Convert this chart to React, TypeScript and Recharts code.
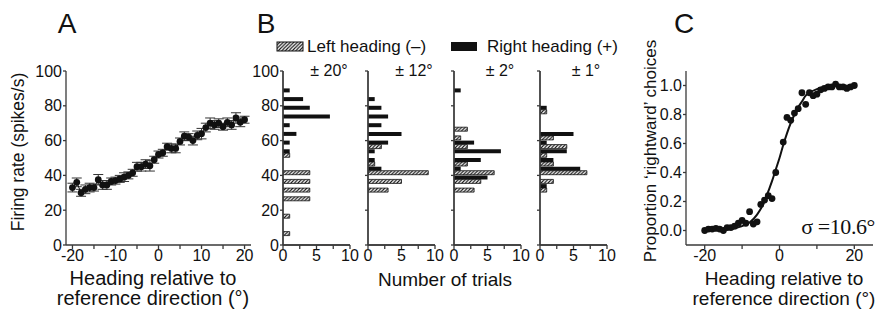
import React from 'react';
import { ComposedChart, Bar, Line, Scatter, XAxis, YAxis, ErrorBar, ReferenceLine } from 'recharts';

const FONT = '"Liberation Sans", Arial, Helvetica, sans-serif';
const SERIF = '"Liberation Serif", "Times New Roman", serif';
const AXIS = '#3a3a3a';
const INK = '#111';
const W = 878;
const H = 310;
const PLOT_TOP = 71;
const PLOT_BOTTOM = 245;

// ---------- Panel A: firing rate vs heading ----------
const headingsA = [-20, -19, -18, -17, -16, -15, -14, -13, -12, -11, -10, -9, -8, -7, -6, -5, -4, -3, -2, -1, 0,
  1, 2, 3, 4, 5, 6, 7, 8, 9, 10, 11, 12, 13, 14, 15, 16, 17, 18, 19, 20];
const firingRate = [33, 36, 30, 32, 33, 33, 37.5, 34.5, 34.5, 36.5, 37, 38, 39, 40, 41.5, 45, 45, 46.5, 45.5, 49, 52,
  53, 56.5, 55.5, 55.5, 59.5, 62.5, 62, 60, 63, 64, 67.5, 70, 69, 70, 68, 70.5, 69, 73, 70.5, 72];
const firingSem = [2.5, 2.5, 2, 2.5, 2.5, 2, 3, 2.5, 2.5, 2, 2, 2, 2.5, 2, 2, 2.5, 2.5, 2.5, 3, 2, 2,
  2, 2, 2.5, 2.5, 2, 2.5, 2, 2.5, 2.5, 3, 2.5, 3, 2.5, 2.5, 2, 2.5, 2.5, 3, 2.5, 2];
const ticksA = [-20, -15, -10, -5, 0, 5, 10, 15, 20];
const rateTicks = [0, 20, 40, 60, 80, 100];

// ---------- Panel B: histograms (firing-rate bins of 5 spikes/s, bin centres) ----------
const binCenters = [2.5, 7.5, 12.5, 17.5, 22.5, 27.5, 32.5, 37.5, 42.5, 47.5,
  52.5, 57.5, 62.5, 67.5, 72.5, 77.5, 82.5, 87.5, 92.5, 97.5];
const histTitles = ['± 20°', '± 12°', '± 2°', '± 1°'];
const right20 = [0, 0, 0, 0, 0, 0, 0, 0, 0, 0, 1, 1, 2, 1, 7, 4, 3, 1, 0, 0];
const left20 = [0, 1, 0, 1, 0, 4, 4, 4, 4, 0, 1, 0, 0, 0, 0, 0, 0, 0, 0, 0];
const right12 = [0, 0, 0, 0, 0, 0, 0, 0, 2, 1, 1, 3, 5, 2, 3, 2, 1, 0, 0, 0];
const left12 = [0, 0, 0, 0, 0, 0, 3, 5, 9, 1, 0, 2, 0, 0, 0, 0, 0, 0, 0, 0];
const right2 = [0, 0, 0, 0, 0, 0, 0, 5, 1, 4, 7, 3, 0, 0, 0, 0, 0, 1, 0, 0];
const left2 = [0, 0, 0, 0, 0, 0, 3, 4, 6, 2, 0, 2, 1, 2, 0, 0, 0, 0, 0, 0];
const right1 = [0, 0, 0, 0, 0, 0, 1, 0, 6, 2, 4, 1, 5, 0, 0, 1, 0, 0, 0, 0];
const left1 = [0, 0, 0, 0, 0, 0, 1, 2, 7, 2, 1, 4, 2, 0, 0, 1, 0, 0, 0, 0];
const trialTicks = [0, 2.5, 5, 7.5, 10];
const legendLabels = ['Left heading (–)', 'Right heading (+)'];

// ---------- Panel C: psychometric ----------
const psychHeading = [-20, -19, -18, -17, -16, -15, -14, -13, -12, -11, -10, -9, -8, -7, -6, -5, -4, -3, -2, -1,
  1, 2, 3, 4, 5, 6, 7, 8, 9, 10, 11, 12, 13, 14, 15, 16, 17, 18, 19, 20];
const psychProp = [0.0, 0.01, 0.01, 0.015, 0.01, 0.0, 0.02, 0.02, 0.03, 0.05, 0.07, 0.05, 0.13, 0.045, 0.06, 0.18, 0.21, 0.24, 0.22, 0.40,
  0.61, 0.78, 0.76, 0.81, 0.84, 0.95, 0.87, 0.95, 0.93, 0.94, 0.97, 0.98, 0.99, 0.99, 1.01, 0.99, 0.99, 0.98, 0.99, 1.0];
const fitHeading = [-20, -16, -12, -10, -8, -6, -5, -4, -3, -2, -1, 0, 1, 2, 3, 4, 5, 6, 7, 8, 10, 12, 16, 20];
const fitProp = [0.0, 0.003, 0.015, 0.03, 0.055, 0.11, 0.15, 0.2, 0.27, 0.34, 0.42, 0.5, 0.59, 0.67, 0.74, 0.8, 0.85, 0.89, 0.93, 0.95, 0.975, 0.99, 0.998, 1.0];
const propTicks = [0, 0.2, 0.4, 0.6, 0.8, 1.0];
const headingTicksC = [-20, -10, 0, 10, 20];

const tickStyle = { fontSize: 16, fill: INK, fontFamily: FONT };
const lineStyle = { stroke: AXIS, strokeWidth: 1.3 };
const abs: React.CSSProperties = { position: 'absolute', left: 0, top: 0 };

const HatchDef = ({ id }: { id: string }) => (
  <defs>
    <pattern id={id} patternUnits="userSpaceOnUse" width="3.5" height="3.5">
      <rect width="3.5" height="3.5" fill="#fff" />
      <path d="M-1,1 L1,-1 M0,3.5 L3.5,0 M2.5,4.5 L4.5,2.5" stroke={INK} strokeWidth="1.1" />
    </pattern>
  </defs>
);

const Dot = (props: any) => {
  const { cx, cy } = props;
  if (cx == null || cy == null) return null;
  return <circle cx={cx} cy={cy} r={3.4} fill={INK} />;
};

function PanelA() {
  const data = headingsA.map((h, i) => ({ h, rate: firingRate[i], err: firingSem[i] }));
  const yw = 40;
  const left = 66;
  const right = 251;
  return (
    <div style={abs}>
      <ComposedChart width={W} height={H} data={data}
        margin={{ top: PLOT_TOP, left: left - yw, right: W - right, bottom: H - PLOT_BOTTOM - 30 }}>
        <XAxis dataKey="h" type="number" domain={[-21.5, 21.5]} ticks={ticksA}
          tickFormatter={(v: number) => (v % 10 === 0 ? String(v) : '')}
          height={30} axisLine={lineStyle} tickLine={lineStyle} tick={tickStyle} tickSize={4} tickMargin={1} />
        <YAxis type="number" domain={[0, 100]} ticks={rateTicks} width={yw} axisLine={lineStyle} tickLine={lineStyle}
          tick={tickStyle} tickSize={3} tickMargin={1} />
        <Line dataKey="rate" stroke={INK} strokeWidth={1} dot={<Dot />} isAnimationActive={false}>
          <ErrorBar dataKey="err" direction="y" width={5} stroke="#333" strokeWidth={1} />
        </Line>
      </ComposedChart>
    </div>
  );
}

function Hist({ axisX, right, left, showY, id, title }: any) {
  const data = binCenters.map((m, i) => ({ mid: m, right: right[i], left: left[i] }));
  const yw = 40;
  const pw = 67;
  const cw = yw + pw + 12;
  return (
    <div style={{ position: 'absolute', left: axisX - yw, top: 0 }}>
      <ComposedChart width={cw} height={H} data={data} layout="vertical" barCategoryGap={0} barGap={0}
        margin={{ top: PLOT_TOP, left: 0, right: cw - yw - pw, bottom: H - PLOT_BOTTOM - 30 }}>
        <XAxis type="number" domain={[0, 10]} ticks={trialTicks} allowDataOverflow
          tickFormatter={(v: number) => (v % 5 === 0 ? String(v) : '')}
          height={30} axisLine={lineStyle} tickLine={lineStyle} tick={tickStyle} tickSize={4} tickMargin={1} />
        <YAxis type="number" dataKey="mid" domain={[0, 100]} ticks={rateTicks} allowDataOverflow reversed width={yw}
          axisLine={lineStyle} tickLine={lineStyle} tick={tickStyle} tickSize={3} tickMargin={1}
          tickFormatter={(v: number) => (showY ? String(v) : '')} />
        <ReferenceLine x={0} stroke={AXIS} strokeWidth={1.3} ifOverflow="visible" />
        <ReferenceLine y={0} stroke={AXIS} strokeWidth={1.3} ifOverflow="visible" />
        <Bar dataKey="right" fill={INK} isAnimationActive={false} />
        <Bar dataKey="left" fill={`url(#${id})`} stroke={INK} strokeWidth={0.8} isAnimationActive={false} />
      </ComposedChart>
      <svg width={cw} height={H} style={abs}>
        <text x={yw + 46} y={76} textAnchor="middle" fontFamily={FONT} fontSize={16} fill={INK}>{title}</text>
      </svg>
    </div>
  );
}

function PanelC() {
  const pts = psychHeading.map((h, i) => ({ h, p: psychProp[i] }));
  const fit = fitHeading.map((h, i) => ({ h, p: fitProp[i] }));
  const yw = 40;
  const left = 686;
  const right = 873;
  const x0 = 600;
  return (
    <div style={{ position: 'absolute', left: x0, top: 0 }}>
      <ComposedChart width={W - x0} height={H}
        margin={{ top: PLOT_TOP, left: left - yw - x0, right: W - right, bottom: H - PLOT_BOTTOM - 30 }}>
        <XAxis dataKey="h" type="number" domain={[-25, 25]} ticks={headingTicksC} allowDataOverflow
          tickFormatter={(v: number) => (v % 20 === 0 ? String(v) : '')}
          height={30} axisLine={lineStyle} tickLine={lineStyle} tick={tickStyle} tickSize={4} tickMargin={1} />
        <YAxis dataKey="p" type="number" domain={[-0.1, 1.1]} ticks={propTicks} allowDataOverflow width={yw}
          axisLine={lineStyle} tickLine={lineStyle} tick={tickStyle} tickSize={3} tickMargin={1}
          tickFormatter={(v: number) => v.toFixed(1)} />
        <Line data={fit} dataKey="p" type="monotone" stroke={INK} strokeWidth={2} dot={false} isAnimationActive={false} />
        <Scatter data={pts} dataKey="p" shape={<Dot />} isAnimationActive={false} />
      </ComposedChart>
    </div>
  );
}

function Overlay() {
  return (
    <svg width={W} height={H} style={abs}>
      <HatchDef id="hatch-legend" />
      <HatchDef id="hatch-1" />
      <HatchDef id="hatch-2" />
      <HatchDef id="hatch-3" />
      <HatchDef id="hatch-4" />
      <g fontFamily={FONT} fill={INK}>
        <text x={67} y={33} fontSize={28} textAnchor="middle">A</text>
        <text x={266} y={33} fontSize={28} textAnchor="middle">B</text>
        <text x={684} y={33} fontSize={28} textAnchor="middle">C</text>

        <text transform="translate(24,152) rotate(-90)" fontSize={17.5} textAnchor="middle">Firing rate (spikes/s)</text>
        <text x={153} y={285} fontSize={20} textAnchor="middle">Heading relative to</text>
        <text x={153} y={305} fontSize={20} textAnchor="middle">reference direction (°)</text>

        <text x={445} y={286} fontSize={19} textAnchor="middle">Number of trials</text>

        <text transform="translate(656,151) rotate(-90)" fontSize={17} textAnchor="middle">Proportion ‘rightward’ choices</text>
        <text x={784} y={285} fontSize={19} textAnchor="middle">Heading relative to</text>
        <text x={784} y={305} fontSize={19} textAnchor="middle">reference direction (°)</text>
      </g>
      <text x={875} y={234} fontFamily={SERIF} fontSize={22} textAnchor="end" fill={INK} letterSpacing={-0.4}>σ =10.6°</text>
      <rect x={277} y={42} width={26} height={9} fill="url(#hatch-legend)" stroke={INK} strokeWidth={1} />
      <text x={307} y={52} fontFamily={FONT} fontSize={17} fill={INK}>{legendLabels[0]}</text>
      <rect x={451} y={42} width={26} height={9} fill={INK} />
      <text x={487} y={52} fontFamily={FONT} fontSize={17} fill={INK}>{legendLabels[1]}</text>
    </svg>
  );
}

export default function App() {
  return (
    <div style={{ position: 'absolute', left: 0, top: 0, width: W, height: H, background: '#fff', overflow: 'hidden' }}>
      <Overlay />
      <PanelA />
      <Hist axisX={283} right={right20} left={left20} showY id="hatch-1" title={histTitles[0]} />
      <Hist axisX={368} right={right12} left={left12} showY={false} id="hatch-2" title={histTitles[1]} />
      <Hist axisX={454} right={right2} left={left2} showY={false} id="hatch-3" title={histTitles[2]} />
      <Hist axisX={540} right={right1} left={left1} showY={false} id="hatch-4" title={histTitles[3]} />
      <PanelC />
    </div>
  );
}
